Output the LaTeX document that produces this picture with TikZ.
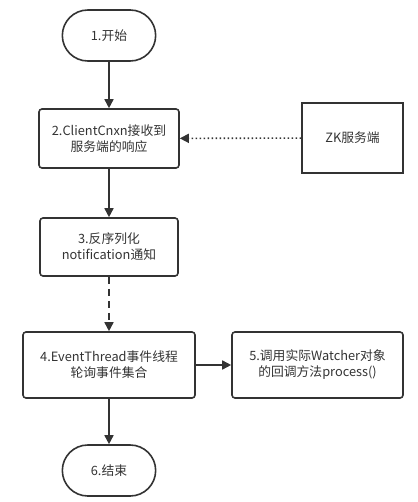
\documentclass[tikz,border=0pt]{standalone}
\usepackage{fontspec}
\setmainfont{Noto Sans CJK SC}
\usetikzlibrary{arrows.meta, shapes.misc}
\definecolor{linegray}{HTML}{333333}
\tikzset{
  stepbox/.style={draw=linegray, line width=1.6pt, rounded corners=3pt,
    align=center, font=\fontsize{12.8}{16}\selectfont, text=linegray},
  terminal/.style={draw=linegray, line width=1.6pt, rounded rectangle,
    rounded rectangle arc length=180, minimum width=100pt, minimum height=51pt,
    font=\fontsize{12.8}{16}\selectfont, text=linegray},
  flow/.style={draw=linegray, line width=1.6pt, -{Triangle[length=9pt,width=9pt]}}
}

\begin{document}
\begin{tikzpicture}[x=1pt, y=-1pt]
      \useasboundingbox (0,0) rectangle (417,502);
      \node[terminal] (start) at (109,35.5) {1.开始};
      \node[stepbox, minimum width=140pt, minimum height=59pt] (recv) at (109,138.5) {2.ClientCnxn接收到\\服务端的响应};
      \node[stepbox, rounded corners=0pt, minimum width=101pt, minimum height=70pt] (zk) at (352.5,138) {ZK服务端};
      \node[stepbox, minimum width=138pt, minimum height=58pt] (deser) at (109,247) {3.反序列化\\notification通知};
      \node[stepbox, minimum width=172pt, minimum height=66pt] (poll) at (109,365) {4.EventThread事件线程\\轮询事件集合};
      \node[stepbox, minimum width=171pt, minimum height=66pt] (call) at (317.5,365) {5.调用实际Watcher对象\\的回调方法process()};
      \node[terminal] (stop) at (109,470.5) {6.结束};
      \draw[flow] (start) -- (recv);
      \draw[flow, dash pattern=on 1.6pt off 2.4pt] (zk) -- (recv);
      \draw[flow] (recv) -- (deser);
      \draw[flow, dash pattern=on 7pt off 5pt] (deser) -- (poll);
      \draw[flow] (poll) -- (call);
      \draw[flow] (poll) -- (stop);
    \end{tikzpicture}
\end{document}
